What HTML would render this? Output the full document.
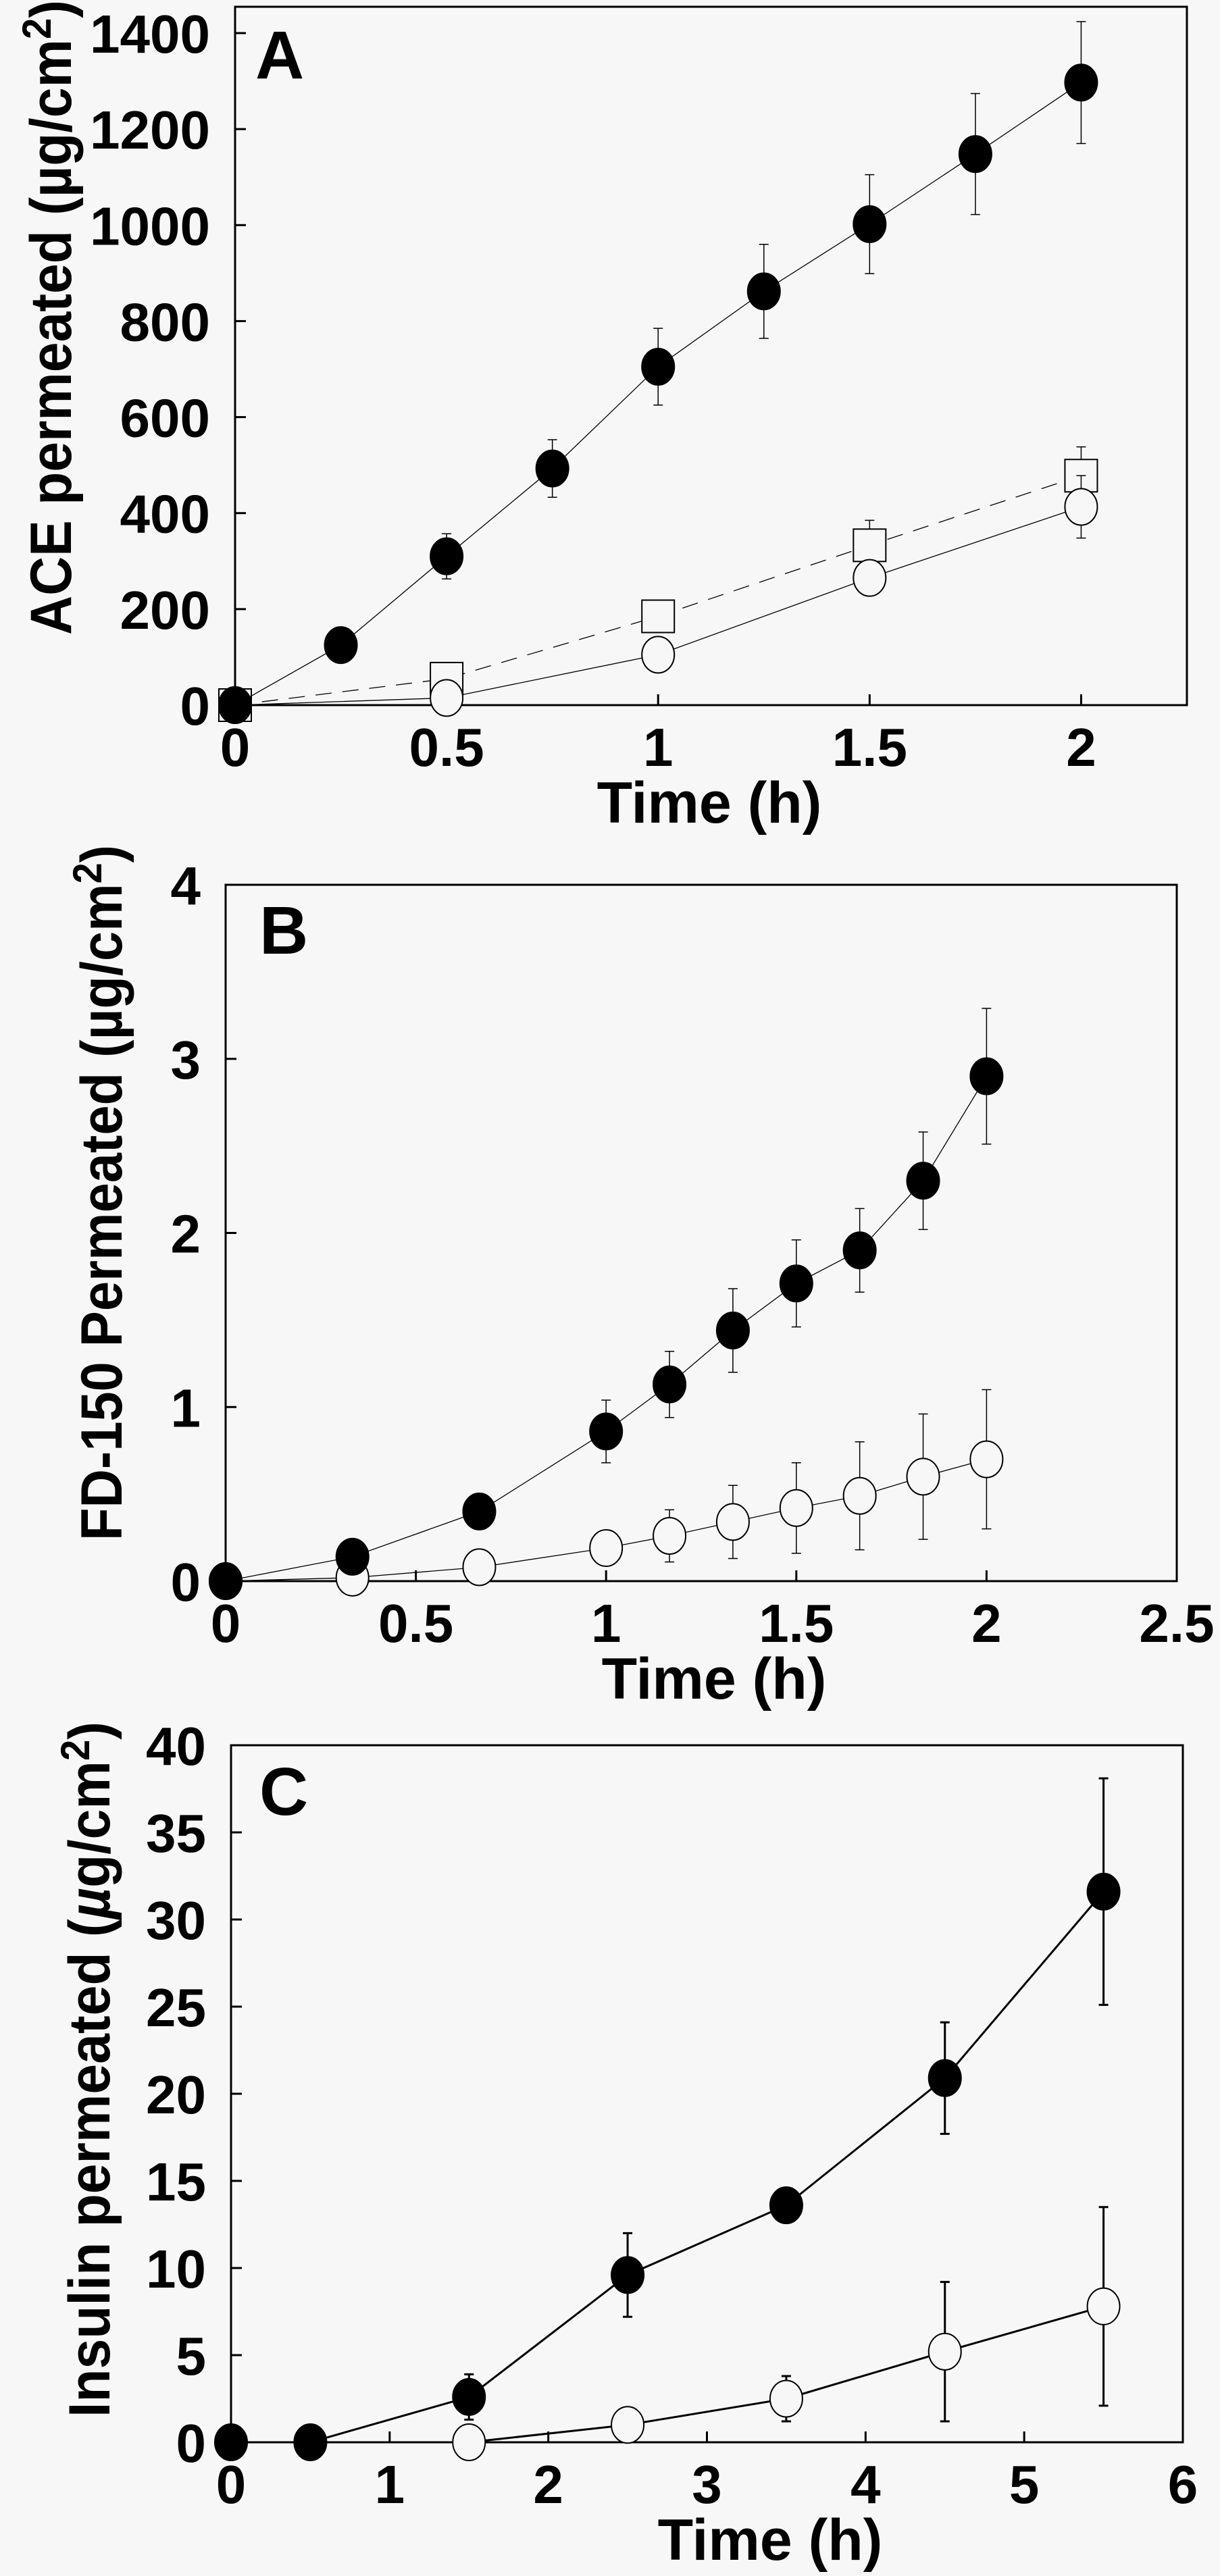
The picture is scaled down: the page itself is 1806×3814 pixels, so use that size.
<!DOCTYPE html>
<html><head><meta charset="utf-8"><style>
html,body{margin:0;padding:0;background:#f7f7f7;}
svg{display:block;font-family:"Liberation Sans",Arial,sans-serif;font-weight:bold;}
</style></head><body>
<svg id="fig" width="1806" height="3814" viewBox="0 0 1806 3814">
<rect x="0" y="0" width="1806" height="3814" fill="#f7f7f7"/>
</svg>
<script>
// Panel A data
const aTimeFilled = [0, 0.25, 0.5, 0.75, 1, 1.25, 1.5, 1.75, 2];
const aFilled = [0, 125, 310, 493, 705, 862, 1002, 1148, 1297];
const aFilledErr = [0, 0, 47, 60, 80, 98, 103, 126, 127];
const aTimeOpen = [0, 0.5, 1, 1.5, 2];
const aOpen = [0, 15, 105, 265, 413];
const aOpenErr = [0, 0, 0, 22, 65];
const aSquare = [0, 55, 185, 333, 478];
const aSquareErr = [0, 0, 0, 52, 60];
const aXTicks = [0, 0.5, 1, 1.5, 2];
const aXTickLabels = ["0", "0.5", "1", "1.5", "2"];
const aYTicks = [0, 200, 400, 600, 800, 1000, 1200, 1400];
// Panel B data
const bTime = [0, 1/3, 2/3, 1, 7/6, 4/3, 1.5, 5/3, 11/6, 2];
const bFilled = [0, 0.14, 0.4, 0.86, 1.13, 1.44, 1.71, 1.9, 2.3, 2.9];
const bFilledErr = [0, 0, 0, 0.18, 0.19, 0.24, 0.25, 0.24, 0.28, 0.39];
const bOpen = [0, 0.02, 0.08, 0.19, 0.26, 0.34, 0.42, 0.49, 0.6, 0.7];
const bOpenErr = [0, 0, 0, 0.1, 0.15, 0.21, 0.26, 0.31, 0.36, 0.4];
const bXTicks = [0, 0.5, 1, 1.5, 2, 2.5];
const bXTickLabels = ["0", "0.5", "1", "1.5", "2", "2.5"];
const bYTicks = [0, 1, 2, 3, 4];
// Panel C data
const cTime = [0, 0.5, 1.5, 2.5, 3.5, 4.5, 5.5];
const cFilled = [0, 0, 2.6, 9.6, 13.6, 20.9, 31.6];
const cFilledErr = [0, 0, 1.3, 2.4, 0, 3.2, 6.5];
const cOpen = [0, 0, 0, 1, 2.5, 5.2, 7.8];
const cOpenErr = [0, 0, 0, 0, 1.3, 4, 5.7];
const cXTicks = [0, 1, 2, 3, 4, 5, 6];
const cYTicks = [0, 5, 10, 15, 20, 25, 30, 35, 40];

const NS = "http://www.w3.org/2000/svg";
const svg = document.getElementById('fig');
function mk(tag, attrs, parent) {
  const e = document.createElementNS(NS, tag);
  for (const k in attrs) e.setAttribute(k, attrs[k]);
  (parent || svg).appendChild(e);
  return e;
}

function panel(cfg) {
  const g = mk('g', {});
  
  
  const X = v => cfg.x0 + (v - cfg.xmin) / (cfg.xmax - cfg.xmin) * (cfg.x1 - cfg.x0);
  const Y = v => cfg.y0 - (v - cfg.ymin) / (cfg.ymax - cfg.ymin) * (cfg.y0 - cfg.y1);
  const frame = mk('rect', {x: cfg.x0, y: cfg.y1, width: cfg.x1 - cfg.x0, height: cfg.y0 - cfg.y1, fill: 'none', stroke: '#000', 'stroke-width': 3}, g);
  
  
  // x ticks
  cfg.xticks.forEach((t, i) => {
    const tk = mk('line', {x1: X(t), x2: X(t), y1: cfg.y0, y2: cfg.y0 - 16, stroke: '#000', 'stroke-width': 3}, g);
    
    
    const lb = mk('text', {x: X(t), y: cfg.y0 + 90, 'font-size': 80, 'text-anchor': 'middle'}, g);
    lb.textContent = cfg.xlabels ? cfg.xlabels[i] : String(t);
    
    
  });
  cfg.yticks.forEach(t => {
    const tk = mk('line', {x1: cfg.x0, x2: cfg.x0 + 16, y1: Y(t), y2: Y(t), stroke: '#000', 'stroke-width': 3}, g);
    
    
    const lb = mk('text', {x: cfg.ylx, y: Y(t) + 29, 'font-size': 80, 'text-anchor': 'end'}, g);
    lb.textContent = String(t);
    
    
  });
  const xt = mk('text', {x: cfg.xtx, y: cfg.xty, 'font-size': 86, 'text-anchor': 'middle'}, g);
  xt.textContent = 'Time (h)';
  
  
  const yt = mk('text', {x: 0, y: 0, 'font-size': 86, 'text-anchor': 'middle', transform: `translate(${cfg.ytx},${cfg.yty}) rotate(-90)`, textLength: cfg.ytlen, lengthAdjust: 'spacingAndGlyphs'}, g);
  yt.innerHTML = cfg.ytitle;
  
  
  const pl = mk('text', {x: cfg.plx, y: cfg.ply, 'font-size': 100}, g);
  pl.textContent = cfg.letter;
  
  
  // series
  cfg.series.forEach(s => {
    const sg = mk('g', {}, g);
    
    
    const pts = s.xs.map((x, i) => X(x) + ',' + Y(s.ys[i])).join(' ');
    const ln = mk('polyline', {points: pts, fill: 'none', stroke: '#000', 'stroke-width': cfg.lw, 'stroke-dasharray': s.dash || 'none'}, sg);
    
    
    s.xs.forEach((x, i) => {
      const e = s.err[i];
      if (e > 0) {
        const cx = X(x), top = Y(s.ys[i] + e), bot = Y(s.ys[i] - (s.upOnly ? 0 : e));
        const eb = mk('path', {d: `M${cx},${top}V${bot}M${cx - 7},${top}H${cx + 7}` + (s.upOnly ? '' : `M${cx - 7},${bot}H${cx + 7}`), stroke: '#000', 'stroke-width': cfg.ew, fill: 'none'}, sg);
        
        
      }
    });
    s.xs.forEach((x, i) => {
      if (s.skip && s.skip.includes(i)) return;
      let m;
      if (s.shape === 'square') {
        m = mk('rect', {x: X(x) - 24, y: Y(s.ys[i]) - 24, width: 48, height: 48, fill: '#f7f7f7', stroke: '#000', 'stroke-width': 2}, sg);
      } else {
        m = mk('ellipse', {cx: X(x), cy: Y(s.ys[i]), rx: 24, ry: 27, fill: s.fill, stroke: '#000', 'stroke-width': 2}, sg);
      }
      
      
    });
  });
}

panel({name: 'panel-a', letter: 'A', x0: 348, x1: 1757, y0: 1044, y1: 10, xmin: 0, xmax: 2.25, ymin: 0, ymax: 1400 * (1044 - 10) / (1044 - 49),
  xticks: aXTicks, xlabels: aXTickLabels, yticks: aYTicks, ylx: 311, lw: 1.3, ew: 1.5,
  xtx: 1050, xty: 1218, ytx: 105, yty: 470, ytlen: 940,
  ytitle: 'ACE permeated (µg/cm<tspan dy="-30" font-size="60">2</tspan><tspan dy="30">)</tspan>',
  plx: 378, ply: 116,
  series: [
    {name: 'series-square', xs: aTimeOpen, ys: aSquare, err: aSquareErr, shape: 'square', dash: '24,16', upOnly: true},
    {name: 'series-open-circle', xs: aTimeOpen, ys: aOpen, err: aOpenErr, fill: '#f7f7f7'},
    {name: 'series-filled-circle', xs: aTimeFilled, ys: aFilled, err: aFilledErr, fill: '#000'}
  ]});

panel({name: 'panel-b', letter: 'B', x0: 334, x1: 1742, y0: 2341, y1: 1310, xmin: 0, xmax: 2.5, ymin: 0, ymax: 4,
  xticks: bXTicks, xlabels: bXTickLabels, yticks: bYTicks, ylx: 297, lw: 1.3, ew: 1.5,
  xtx: 1057, xty: 2515, ytx: 180, yty: 1766, ytlen: 1030,
  ytitle: 'FD-150 Permeated (µg/cm<tspan dy="-30" font-size="60">2</tspan><tspan dy="30">)</tspan>',
  plx: 384, ply: 1412,
  series: [
    {name: 'series-open-circle', xs: bTime, ys: bOpen, err: bOpenErr, fill: '#f7f7f7'},
    {name: 'series-filled-circle', xs: bTime, ys: bFilled, err: bFilledErr, fill: '#000'}
  ]});

panel({name: 'panel-c', letter: 'C', x0: 342, x1: 1751, y0: 3616, y1: 2584, xmin: 0, xmax: 6, ymin: 0, ymax: 40,
  xticks: cXTicks, yticks: cYTicks, ylx: 305, lw: 3, ew: 3,
  xtx: 1140, xty: 3790, ytx: 162, yty: 3064, ytlen: 1030,
  ytitle: 'Insulin permeated (<tspan font-style="italic">µ</tspan>g/cm<tspan dy="-30" font-size="60">2</tspan><tspan dy="30">)</tspan>',
  plx: 384, ply: 2687,
  series: [
    {name: 'series-open-circle', xs: cTime, ys: cOpen, err: cOpenErr, fill: '#f7f7f7', skip: [0, 1]},
    {name: 'series-filled-circle', xs: cTime, ys: cFilled, err: cFilledErr, fill: '#000'}
  ]});
</script>
</body></html>
